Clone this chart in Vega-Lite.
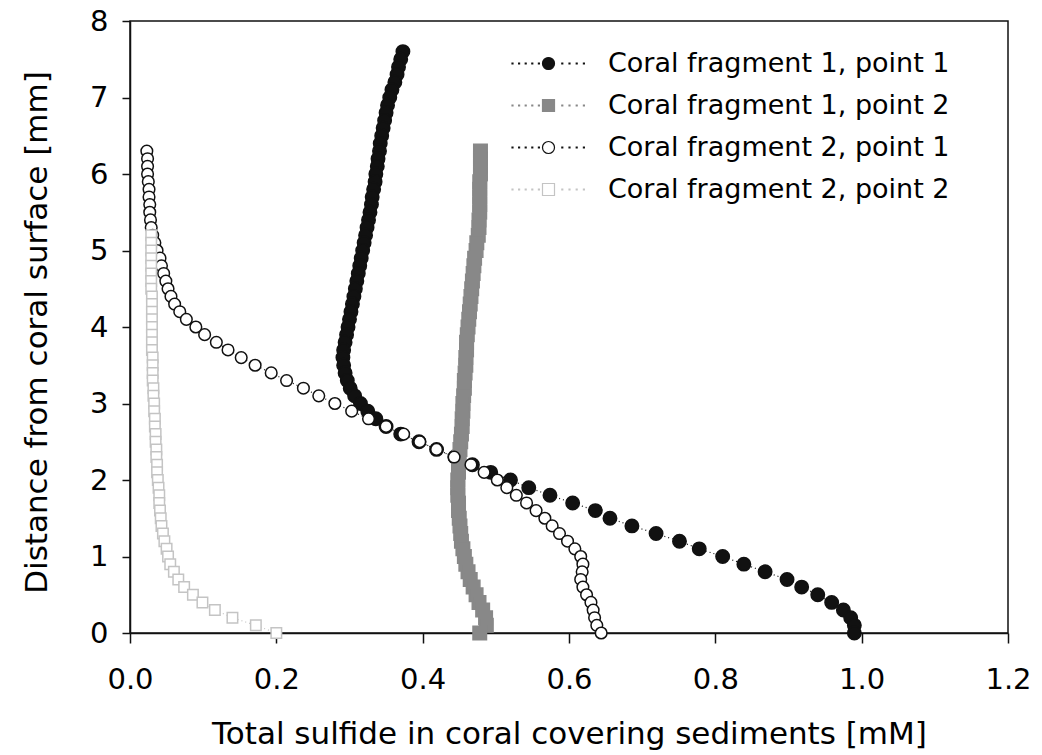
{
  "$schema": "https://vega.github.io/schema/vega-lite/v6.json",
  "width": 878,
  "height": 612,
  "autosize": {"type": "none"},
  "padding": {"left": 130, "top": 21, "right": 34, "bottom": 122},
  "background": "white",
  "config": {
    "font": "DejaVu Sans",
    "view": {"stroke": "#111111", "strokeWidth": 1.5},
    "axis": {
      "grid": false,
      "domainColor": "#111111",
      "domainWidth": 1.5,
      "tickColor": "#111111",
      "tickWidth": 1.5,
      "labelColor": "#000000",
      "titleColor": "#000000",
      "labelFont": "DejaVu Sans",
      "titleFont": "DejaVu Sans",
      "labelFontSize": 29,
      "titleFontSize": 31,
      "titleFontWeight": "normal",
      "labelFlush": false,
      "labelOverlap": false
    },
    "legend": {
      "labelFont": "DejaVu Sans",
      "labelColor": "#000000"
    }
  },
  "data": {
    "values": [
      {"series": "Coral fragment 1, point 1", "depth": 7.6, "sulfide": 0.373},
      {"series": "Coral fragment 1, point 1", "depth": 7.5, "sulfide": 0.370},
      {"series": "Coral fragment 1, point 1", "depth": 7.4, "sulfide": 0.367},
      {"series": "Coral fragment 1, point 1", "depth": 7.3, "sulfide": 0.365},
      {"series": "Coral fragment 1, point 1", "depth": 7.2, "sulfide": 0.362},
      {"series": "Coral fragment 1, point 1", "depth": 7.1, "sulfide": 0.358},
      {"series": "Coral fragment 1, point 1", "depth": 7.0, "sulfide": 0.355},
      {"series": "Coral fragment 1, point 1", "depth": 6.9, "sulfide": 0.352},
      {"series": "Coral fragment 1, point 1", "depth": 6.8, "sulfide": 0.350},
      {"series": "Coral fragment 1, point 1", "depth": 6.7, "sulfide": 0.348},
      {"series": "Coral fragment 1, point 1", "depth": 6.6, "sulfide": 0.346},
      {"series": "Coral fragment 1, point 1", "depth": 6.5, "sulfide": 0.344},
      {"series": "Coral fragment 1, point 1", "depth": 6.4, "sulfide": 0.342},
      {"series": "Coral fragment 1, point 1", "depth": 6.3, "sulfide": 0.341},
      {"series": "Coral fragment 1, point 1", "depth": 6.2, "sulfide": 0.339},
      {"series": "Coral fragment 1, point 1", "depth": 6.1, "sulfide": 0.338},
      {"series": "Coral fragment 1, point 1", "depth": 6.0, "sulfide": 0.336},
      {"series": "Coral fragment 1, point 1", "depth": 5.9, "sulfide": 0.335},
      {"series": "Coral fragment 1, point 1", "depth": 5.8, "sulfide": 0.333},
      {"series": "Coral fragment 1, point 1", "depth": 5.7, "sulfide": 0.331},
      {"series": "Coral fragment 1, point 1", "depth": 5.6, "sulfide": 0.330},
      {"series": "Coral fragment 1, point 1", "depth": 5.5, "sulfide": 0.328},
      {"series": "Coral fragment 1, point 1", "depth": 5.4, "sulfide": 0.326},
      {"series": "Coral fragment 1, point 1", "depth": 5.3, "sulfide": 0.324},
      {"series": "Coral fragment 1, point 1", "depth": 5.2, "sulfide": 0.322},
      {"series": "Coral fragment 1, point 1", "depth": 5.1, "sulfide": 0.320},
      {"series": "Coral fragment 1, point 1", "depth": 5.0, "sulfide": 0.318},
      {"series": "Coral fragment 1, point 1", "depth": 4.9, "sulfide": 0.316},
      {"series": "Coral fragment 1, point 1", "depth": 4.8, "sulfide": 0.314},
      {"series": "Coral fragment 1, point 1", "depth": 4.7, "sulfide": 0.312},
      {"series": "Coral fragment 1, point 1", "depth": 4.6, "sulfide": 0.310},
      {"series": "Coral fragment 1, point 1", "depth": 4.5, "sulfide": 0.308},
      {"series": "Coral fragment 1, point 1", "depth": 4.4, "sulfide": 0.306},
      {"series": "Coral fragment 1, point 1", "depth": 4.3, "sulfide": 0.304},
      {"series": "Coral fragment 1, point 1", "depth": 4.2, "sulfide": 0.302},
      {"series": "Coral fragment 1, point 1", "depth": 4.1, "sulfide": 0.300},
      {"series": "Coral fragment 1, point 1", "depth": 4.0, "sulfide": 0.298},
      {"series": "Coral fragment 1, point 1", "depth": 3.9, "sulfide": 0.296},
      {"series": "Coral fragment 1, point 1", "depth": 3.8, "sulfide": 0.294},
      {"series": "Coral fragment 1, point 1", "depth": 3.7, "sulfide": 0.292},
      {"series": "Coral fragment 1, point 1", "depth": 3.6, "sulfide": 0.291},
      {"series": "Coral fragment 1, point 1", "depth": 3.5, "sulfide": 0.292},
      {"series": "Coral fragment 1, point 1", "depth": 3.4, "sulfide": 0.294},
      {"series": "Coral fragment 1, point 1", "depth": 3.3, "sulfide": 0.297},
      {"series": "Coral fragment 1, point 1", "depth": 3.2, "sulfide": 0.301},
      {"series": "Coral fragment 1, point 1", "depth": 3.1, "sulfide": 0.307},
      {"series": "Coral fragment 1, point 1", "depth": 3.0, "sulfide": 0.315},
      {"series": "Coral fragment 1, point 1", "depth": 2.9, "sulfide": 0.325},
      {"series": "Coral fragment 1, point 1", "depth": 2.8, "sulfide": 0.336},
      {"series": "Coral fragment 1, point 1", "depth": 2.7, "sulfide": 0.350},
      {"series": "Coral fragment 1, point 1", "depth": 2.6, "sulfide": 0.370},
      {"series": "Coral fragment 1, point 1", "depth": 2.5, "sulfide": 0.395},
      {"series": "Coral fragment 1, point 1", "depth": 2.4, "sulfide": 0.419},
      {"series": "Coral fragment 1, point 1", "depth": 2.3, "sulfide": 0.444},
      {"series": "Coral fragment 1, point 1", "depth": 2.2, "sulfide": 0.468},
      {"series": "Coral fragment 1, point 1", "depth": 2.1, "sulfide": 0.493},
      {"series": "Coral fragment 1, point 1", "depth": 2.0, "sulfide": 0.520},
      {"series": "Coral fragment 1, point 1", "depth": 1.9, "sulfide": 0.545},
      {"series": "Coral fragment 1, point 1", "depth": 1.8, "sulfide": 0.574},
      {"series": "Coral fragment 1, point 1", "depth": 1.7, "sulfide": 0.605},
      {"series": "Coral fragment 1, point 1", "depth": 1.6, "sulfide": 0.636},
      {"series": "Coral fragment 1, point 1", "depth": 1.5, "sulfide": 0.656},
      {"series": "Coral fragment 1, point 1", "depth": 1.4, "sulfide": 0.686},
      {"series": "Coral fragment 1, point 1", "depth": 1.3, "sulfide": 0.719},
      {"series": "Coral fragment 1, point 1", "depth": 1.2, "sulfide": 0.751},
      {"series": "Coral fragment 1, point 1", "depth": 1.1, "sulfide": 0.778},
      {"series": "Coral fragment 1, point 1", "depth": 1.0, "sulfide": 0.810},
      {"series": "Coral fragment 1, point 1", "depth": 0.9, "sulfide": 0.839},
      {"series": "Coral fragment 1, point 1", "depth": 0.8, "sulfide": 0.868},
      {"series": "Coral fragment 1, point 1", "depth": 0.7, "sulfide": 0.898},
      {"series": "Coral fragment 1, point 1", "depth": 0.6, "sulfide": 0.918},
      {"series": "Coral fragment 1, point 1", "depth": 0.5, "sulfide": 0.940},
      {"series": "Coral fragment 1, point 1", "depth": 0.4, "sulfide": 0.959},
      {"series": "Coral fragment 1, point 1", "depth": 0.3, "sulfide": 0.975},
      {"series": "Coral fragment 1, point 1", "depth": 0.2, "sulfide": 0.985},
      {"series": "Coral fragment 1, point 1", "depth": 0.1, "sulfide": 0.990},
      {"series": "Coral fragment 1, point 1", "depth": 0.0, "sulfide": 0.990},

      {"series": "Coral fragment 1, point 2", "depth": 6.3, "sulfide": 0.479},
      {"series": "Coral fragment 1, point 2", "depth": 6.2, "sulfide": 0.479},
      {"series": "Coral fragment 1, point 2", "depth": 6.1, "sulfide": 0.479},
      {"series": "Coral fragment 1, point 2", "depth": 6.0, "sulfide": 0.479},
      {"series": "Coral fragment 1, point 2", "depth": 5.9, "sulfide": 0.478},
      {"series": "Coral fragment 1, point 2", "depth": 5.8, "sulfide": 0.478},
      {"series": "Coral fragment 1, point 2", "depth": 5.7, "sulfide": 0.478},
      {"series": "Coral fragment 1, point 2", "depth": 5.6, "sulfide": 0.478},
      {"series": "Coral fragment 1, point 2", "depth": 5.5, "sulfide": 0.478},
      {"series": "Coral fragment 1, point 2", "depth": 5.4, "sulfide": 0.477},
      {"series": "Coral fragment 1, point 2", "depth": 5.3, "sulfide": 0.477},
      {"series": "Coral fragment 1, point 2", "depth": 5.2, "sulfide": 0.476},
      {"series": "Coral fragment 1, point 2", "depth": 5.1, "sulfide": 0.474},
      {"series": "Coral fragment 1, point 2", "depth": 5.0, "sulfide": 0.473},
      {"series": "Coral fragment 1, point 2", "depth": 4.9, "sulfide": 0.471},
      {"series": "Coral fragment 1, point 2", "depth": 4.8, "sulfide": 0.470},
      {"series": "Coral fragment 1, point 2", "depth": 4.7, "sulfide": 0.469},
      {"series": "Coral fragment 1, point 2", "depth": 4.6, "sulfide": 0.468},
      {"series": "Coral fragment 1, point 2", "depth": 4.5, "sulfide": 0.467},
      {"series": "Coral fragment 1, point 2", "depth": 4.4, "sulfide": 0.466},
      {"series": "Coral fragment 1, point 2", "depth": 4.3, "sulfide": 0.465},
      {"series": "Coral fragment 1, point 2", "depth": 4.2, "sulfide": 0.464},
      {"series": "Coral fragment 1, point 2", "depth": 4.1, "sulfide": 0.463},
      {"series": "Coral fragment 1, point 2", "depth": 4.0, "sulfide": 0.462},
      {"series": "Coral fragment 1, point 2", "depth": 3.9, "sulfide": 0.461},
      {"series": "Coral fragment 1, point 2", "depth": 3.8, "sulfide": 0.460},
      {"series": "Coral fragment 1, point 2", "depth": 3.7, "sulfide": 0.460},
      {"series": "Coral fragment 1, point 2", "depth": 3.6, "sulfide": 0.459},
      {"series": "Coral fragment 1, point 2", "depth": 3.5, "sulfide": 0.459},
      {"series": "Coral fragment 1, point 2", "depth": 3.4, "sulfide": 0.458},
      {"series": "Coral fragment 1, point 2", "depth": 3.3, "sulfide": 0.457},
      {"series": "Coral fragment 1, point 2", "depth": 3.2, "sulfide": 0.457},
      {"series": "Coral fragment 1, point 2", "depth": 3.1, "sulfide": 0.456},
      {"series": "Coral fragment 1, point 2", "depth": 3.0, "sulfide": 0.455},
      {"series": "Coral fragment 1, point 2", "depth": 2.9, "sulfide": 0.455},
      {"series": "Coral fragment 1, point 2", "depth": 2.8, "sulfide": 0.454},
      {"series": "Coral fragment 1, point 2", "depth": 2.7, "sulfide": 0.454},
      {"series": "Coral fragment 1, point 2", "depth": 2.6, "sulfide": 0.453},
      {"series": "Coral fragment 1, point 2", "depth": 2.5, "sulfide": 0.452},
      {"series": "Coral fragment 1, point 2", "depth": 2.4, "sulfide": 0.451},
      {"series": "Coral fragment 1, point 2", "depth": 2.3, "sulfide": 0.450},
      {"series": "Coral fragment 1, point 2", "depth": 2.2, "sulfide": 0.449},
      {"series": "Coral fragment 1, point 2", "depth": 2.1, "sulfide": 0.449},
      {"series": "Coral fragment 1, point 2", "depth": 2.0, "sulfide": 0.448},
      {"series": "Coral fragment 1, point 2", "depth": 1.9, "sulfide": 0.448},
      {"series": "Coral fragment 1, point 2", "depth": 1.8, "sulfide": 0.448},
      {"series": "Coral fragment 1, point 2", "depth": 1.7, "sulfide": 0.449},
      {"series": "Coral fragment 1, point 2", "depth": 1.6, "sulfide": 0.449},
      {"series": "Coral fragment 1, point 2", "depth": 1.5, "sulfide": 0.450},
      {"series": "Coral fragment 1, point 2", "depth": 1.4, "sulfide": 0.451},
      {"series": "Coral fragment 1, point 2", "depth": 1.3, "sulfide": 0.452},
      {"series": "Coral fragment 1, point 2", "depth": 1.2, "sulfide": 0.453},
      {"series": "Coral fragment 1, point 2", "depth": 1.1, "sulfide": 0.455},
      {"series": "Coral fragment 1, point 2", "depth": 1.0, "sulfide": 0.457},
      {"series": "Coral fragment 1, point 2", "depth": 0.9, "sulfide": 0.459},
      {"series": "Coral fragment 1, point 2", "depth": 0.8, "sulfide": 0.462},
      {"series": "Coral fragment 1, point 2", "depth": 0.7, "sulfide": 0.465},
      {"series": "Coral fragment 1, point 2", "depth": 0.6, "sulfide": 0.469},
      {"series": "Coral fragment 1, point 2", "depth": 0.5, "sulfide": 0.473},
      {"series": "Coral fragment 1, point 2", "depth": 0.4, "sulfide": 0.477},
      {"series": "Coral fragment 1, point 2", "depth": 0.3, "sulfide": 0.482},
      {"series": "Coral fragment 1, point 2", "depth": 0.2, "sulfide": 0.486},
      {"series": "Coral fragment 1, point 2", "depth": 0.1, "sulfide": 0.487},
      {"series": "Coral fragment 1, point 2", "depth": 0.0, "sulfide": 0.478},

      {"series": "Coral fragment 2, point 1", "depth": 6.3, "sulfide": 0.023},
      {"series": "Coral fragment 2, point 1", "depth": 6.2, "sulfide": 0.024},
      {"series": "Coral fragment 2, point 1", "depth": 6.1, "sulfide": 0.024},
      {"series": "Coral fragment 2, point 1", "depth": 6.0, "sulfide": 0.024},
      {"series": "Coral fragment 2, point 1", "depth": 5.9, "sulfide": 0.025},
      {"series": "Coral fragment 2, point 1", "depth": 5.8, "sulfide": 0.026},
      {"series": "Coral fragment 2, point 1", "depth": 5.7, "sulfide": 0.026},
      {"series": "Coral fragment 2, point 1", "depth": 5.6, "sulfide": 0.027},
      {"series": "Coral fragment 2, point 1", "depth": 5.5, "sulfide": 0.027},
      {"series": "Coral fragment 2, point 1", "depth": 5.4, "sulfide": 0.028},
      {"series": "Coral fragment 2, point 1", "depth": 5.3, "sulfide": 0.029},
      {"series": "Coral fragment 2, point 1", "depth": 5.2, "sulfide": 0.031},
      {"series": "Coral fragment 2, point 1", "depth": 5.1, "sulfide": 0.034},
      {"series": "Coral fragment 2, point 1", "depth": 5.0, "sulfide": 0.037},
      {"series": "Coral fragment 2, point 1", "depth": 4.9, "sulfide": 0.041},
      {"series": "Coral fragment 2, point 1", "depth": 4.8, "sulfide": 0.043},
      {"series": "Coral fragment 2, point 1", "depth": 4.7, "sulfide": 0.046},
      {"series": "Coral fragment 2, point 1", "depth": 4.6, "sulfide": 0.049},
      {"series": "Coral fragment 2, point 1", "depth": 4.5, "sulfide": 0.052},
      {"series": "Coral fragment 2, point 1", "depth": 4.4, "sulfide": 0.056},
      {"series": "Coral fragment 2, point 1", "depth": 4.3, "sulfide": 0.061},
      {"series": "Coral fragment 2, point 1", "depth": 4.2, "sulfide": 0.068},
      {"series": "Coral fragment 2, point 1", "depth": 4.1, "sulfide": 0.077},
      {"series": "Coral fragment 2, point 1", "depth": 4.0, "sulfide": 0.090},
      {"series": "Coral fragment 2, point 1", "depth": 3.9, "sulfide": 0.102},
      {"series": "Coral fragment 2, point 1", "depth": 3.8, "sulfide": 0.118},
      {"series": "Coral fragment 2, point 1", "depth": 3.7, "sulfide": 0.134},
      {"series": "Coral fragment 2, point 1", "depth": 3.6, "sulfide": 0.152},
      {"series": "Coral fragment 2, point 1", "depth": 3.5, "sulfide": 0.171},
      {"series": "Coral fragment 2, point 1", "depth": 3.4, "sulfide": 0.193},
      {"series": "Coral fragment 2, point 1", "depth": 3.3, "sulfide": 0.214},
      {"series": "Coral fragment 2, point 1", "depth": 3.2, "sulfide": 0.237},
      {"series": "Coral fragment 2, point 1", "depth": 3.1, "sulfide": 0.258},
      {"series": "Coral fragment 2, point 1", "depth": 3.0, "sulfide": 0.280},
      {"series": "Coral fragment 2, point 1", "depth": 2.9, "sulfide": 0.303},
      {"series": "Coral fragment 2, point 1", "depth": 2.8, "sulfide": 0.326},
      {"series": "Coral fragment 2, point 1", "depth": 2.7, "sulfide": 0.350},
      {"series": "Coral fragment 2, point 1", "depth": 2.6, "sulfide": 0.374},
      {"series": "Coral fragment 2, point 1", "depth": 2.5, "sulfide": 0.396},
      {"series": "Coral fragment 2, point 1", "depth": 2.4, "sulfide": 0.419},
      {"series": "Coral fragment 2, point 1", "depth": 2.3, "sulfide": 0.443},
      {"series": "Coral fragment 2, point 1", "depth": 2.2, "sulfide": 0.466},
      {"series": "Coral fragment 2, point 1", "depth": 2.1, "sulfide": 0.484},
      {"series": "Coral fragment 2, point 1", "depth": 2.0, "sulfide": 0.502},
      {"series": "Coral fragment 2, point 1", "depth": 1.9, "sulfide": 0.515},
      {"series": "Coral fragment 2, point 1", "depth": 1.8, "sulfide": 0.528},
      {"series": "Coral fragment 2, point 1", "depth": 1.7, "sulfide": 0.542},
      {"series": "Coral fragment 2, point 1", "depth": 1.6, "sulfide": 0.555},
      {"series": "Coral fragment 2, point 1", "depth": 1.5, "sulfide": 0.567},
      {"series": "Coral fragment 2, point 1", "depth": 1.4, "sulfide": 0.577},
      {"series": "Coral fragment 2, point 1", "depth": 1.3, "sulfide": 0.587},
      {"series": "Coral fragment 2, point 1", "depth": 1.2, "sulfide": 0.598},
      {"series": "Coral fragment 2, point 1", "depth": 1.1, "sulfide": 0.608},
      {"series": "Coral fragment 2, point 1", "depth": 1.0, "sulfide": 0.616},
      {"series": "Coral fragment 2, point 1", "depth": 0.9, "sulfide": 0.619},
      {"series": "Coral fragment 2, point 1", "depth": 0.8, "sulfide": 0.618},
      {"series": "Coral fragment 2, point 1", "depth": 0.7, "sulfide": 0.616},
      {"series": "Coral fragment 2, point 1", "depth": 0.6, "sulfide": 0.619},
      {"series": "Coral fragment 2, point 1", "depth": 0.5, "sulfide": 0.624},
      {"series": "Coral fragment 2, point 1", "depth": 0.4, "sulfide": 0.630},
      {"series": "Coral fragment 2, point 1", "depth": 0.3, "sulfide": 0.633},
      {"series": "Coral fragment 2, point 1", "depth": 0.2, "sulfide": 0.635},
      {"series": "Coral fragment 2, point 1", "depth": 0.1, "sulfide": 0.638},
      {"series": "Coral fragment 2, point 1", "depth": 0.0, "sulfide": 0.644},

      {"series": "Coral fragment 2, point 2", "depth": 5.2, "sulfide": 0.029},
      {"series": "Coral fragment 2, point 2", "depth": 5.1, "sulfide": 0.029},
      {"series": "Coral fragment 2, point 2", "depth": 5.0, "sulfide": 0.029},
      {"series": "Coral fragment 2, point 2", "depth": 4.9, "sulfide": 0.029},
      {"series": "Coral fragment 2, point 2", "depth": 4.8, "sulfide": 0.029},
      {"series": "Coral fragment 2, point 2", "depth": 4.7, "sulfide": 0.029},
      {"series": "Coral fragment 2, point 2", "depth": 4.6, "sulfide": 0.029},
      {"series": "Coral fragment 2, point 2", "depth": 4.5, "sulfide": 0.029},
      {"series": "Coral fragment 2, point 2", "depth": 4.4, "sulfide": 0.030},
      {"series": "Coral fragment 2, point 2", "depth": 4.3, "sulfide": 0.030},
      {"series": "Coral fragment 2, point 2", "depth": 4.2, "sulfide": 0.030},
      {"series": "Coral fragment 2, point 2", "depth": 4.1, "sulfide": 0.030},
      {"series": "Coral fragment 2, point 2", "depth": 4.0, "sulfide": 0.030},
      {"series": "Coral fragment 2, point 2", "depth": 3.9, "sulfide": 0.030},
      {"series": "Coral fragment 2, point 2", "depth": 3.8, "sulfide": 0.030},
      {"series": "Coral fragment 2, point 2", "depth": 3.7, "sulfide": 0.030},
      {"series": "Coral fragment 2, point 2", "depth": 3.6, "sulfide": 0.031},
      {"series": "Coral fragment 2, point 2", "depth": 3.5, "sulfide": 0.031},
      {"series": "Coral fragment 2, point 2", "depth": 3.4, "sulfide": 0.031},
      {"series": "Coral fragment 2, point 2", "depth": 3.3, "sulfide": 0.031},
      {"series": "Coral fragment 2, point 2", "depth": 3.2, "sulfide": 0.032},
      {"series": "Coral fragment 2, point 2", "depth": 3.1, "sulfide": 0.032},
      {"series": "Coral fragment 2, point 2", "depth": 3.0, "sulfide": 0.033},
      {"series": "Coral fragment 2, point 2", "depth": 2.9, "sulfide": 0.033},
      {"series": "Coral fragment 2, point 2", "depth": 2.8, "sulfide": 0.034},
      {"series": "Coral fragment 2, point 2", "depth": 2.7, "sulfide": 0.034},
      {"series": "Coral fragment 2, point 2", "depth": 2.6, "sulfide": 0.035},
      {"series": "Coral fragment 2, point 2", "depth": 2.5, "sulfide": 0.035},
      {"series": "Coral fragment 2, point 2", "depth": 2.4, "sulfide": 0.036},
      {"series": "Coral fragment 2, point 2", "depth": 2.3, "sulfide": 0.036},
      {"series": "Coral fragment 2, point 2", "depth": 2.2, "sulfide": 0.037},
      {"series": "Coral fragment 2, point 2", "depth": 2.1, "sulfide": 0.037},
      {"series": "Coral fragment 2, point 2", "depth": 2.0, "sulfide": 0.038},
      {"series": "Coral fragment 2, point 2", "depth": 1.9, "sulfide": 0.039},
      {"series": "Coral fragment 2, point 2", "depth": 1.8, "sulfide": 0.040},
      {"series": "Coral fragment 2, point 2", "depth": 1.7, "sulfide": 0.040},
      {"series": "Coral fragment 2, point 2", "depth": 1.6, "sulfide": 0.041},
      {"series": "Coral fragment 2, point 2", "depth": 1.5, "sulfide": 0.042},
      {"series": "Coral fragment 2, point 2", "depth": 1.4, "sulfide": 0.043},
      {"series": "Coral fragment 2, point 2", "depth": 1.3, "sulfide": 0.045},
      {"series": "Coral fragment 2, point 2", "depth": 1.2, "sulfide": 0.047},
      {"series": "Coral fragment 2, point 2", "depth": 1.1, "sulfide": 0.050},
      {"series": "Coral fragment 2, point 2", "depth": 1.0, "sulfide": 0.052},
      {"series": "Coral fragment 2, point 2", "depth": 0.9, "sulfide": 0.055},
      {"series": "Coral fragment 2, point 2", "depth": 0.8, "sulfide": 0.060},
      {"series": "Coral fragment 2, point 2", "depth": 0.7, "sulfide": 0.066},
      {"series": "Coral fragment 2, point 2", "depth": 0.6, "sulfide": 0.074},
      {"series": "Coral fragment 2, point 2", "depth": 0.5, "sulfide": 0.086},
      {"series": "Coral fragment 2, point 2", "depth": 0.4, "sulfide": 0.099},
      {"series": "Coral fragment 2, point 2", "depth": 0.3, "sulfide": 0.116},
      {"series": "Coral fragment 2, point 2", "depth": 0.2, "sulfide": 0.140},
      {"series": "Coral fragment 2, point 2", "depth": 0.1, "sulfide": 0.172},
      {"series": "Coral fragment 2, point 2", "depth": 0.0, "sulfide": 0.200}
    ]
  },
  "encoding": {
    "x": {
      "field": "sulfide",
      "type": "quantitative",
      "scale": {"domain": [0, 1.2], "nice": false, "zero": false},
      "axis": {
        "values": [0, 0.2, 0.4, 0.6, 0.8, 1.0, 1.2],
        "format": ".1f",
        "tickSize": 10,
        "labelPadding": 22,
        "titleY": 110,
        "titleBaseline": "alphabetic",
        "title": "Total sulfide in coral covering sediments [mM]"
      }
    },
    "y": {
      "field": "depth",
      "type": "quantitative",
      "scale": {"domain": [0, 8], "nice": false, "zero": false},
      "axis": {
        "values": [0, 1, 2, 3, 4, 5, 6, 7, 8],
        "format": "d",
        "tickSize": 8,
        "labelPadding": 14,
        "titleX": -84,
        "titleY": 311,
        "titleAngle": -90,
        "titleBaseline": "alphabetic",
        "title": "Distance from coral surface [mm]"
      }
    }
  },
  "resolve": {
    "scale": {"shape": "independent"},
    "legend": {"shape": "independent", "fill": "independent", "stroke": "independent", "size": "independent", "color": "independent"}
  },
  "layer": [
    {
      "mark": {"type": "line", "strokeDash": [1, 3], "strokeWidth": 1.2},
      "encoding": {
        "color": {
          "field": "series",
          "type": "nominal",
          "scale": {
            "domain": ["Coral fragment 2, point 2", "Coral fragment 2, point 1", "Coral fragment 1, point 2", "Coral fragment 1, point 1"],
            "range": ["#c4c4c4", "#111111", "#888888", "#111111"]
          },
          "legend": null
        },
        "order": {"field": "depth", "type": "quantitative"}
      }
    },
    {
      "mark": {"type": "point", "filled": true, "opacity": 1, "strokeWidth": 1.5},
      "encoding": {
        "shape": {
          "field": "series",
          "type": "nominal",
          "scale": {
            "domain": ["Coral fragment 1, point 1", "Coral fragment 1, point 2", "Coral fragment 2, point 1", "Coral fragment 2, point 2"],
            "range": ["circle", "square", "circle", "square"]
          },
          "legend": null
        },
        "size": {
          "field": "series",
          "type": "nominal",
          "scale": {
            "type": "ordinal",
            "domain": ["Coral fragment 1, point 1", "Coral fragment 1, point 2", "Coral fragment 2, point 1", "Coral fragment 2, point 2"],
            "range": [180, 182, 135, 110]
          },
          "legend": null
        },
        "fill": {
          "field": "series",
          "type": "nominal",
          "scale": {
            "domain": ["Coral fragment 1, point 1", "Coral fragment 1, point 2", "Coral fragment 2, point 1", "Coral fragment 2, point 2"],
            "range": ["#111111", "#888888", "#ffffff", "#ffffff"]
          },
          "legend": null
        },
        "stroke": {
          "field": "series",
          "type": "nominal",
          "scale": {
            "domain": ["Coral fragment 1, point 1", "Coral fragment 1, point 2", "Coral fragment 2, point 1", "Coral fragment 2, point 2"],
            "range": ["#111111", "#888888", "#111111", "#c4c4c4"]
          },
          "legend": null
        }
      }
    },
    {
      "transform": [{"filter": "datum.depth > 100"}],
      "mark": {"type": "point", "filled": true, "opacity": 1, "strokeWidth": 1.2},
      "encoding": {
        "shape": {
          "field": "series",
          "type": "nominal",
          "scale": {
            "domain": ["Coral fragment 1, point 1", "Coral fragment 1, point 2", "Coral fragment 2, point 1", "Coral fragment 2, point 2"],
            "range": [
              "M1,0C1,0.5523,0.5523,1,0,1C-0.5523,1,-1,0.5523,-1,0C-1,-0.5523,-0.5523,-1,0,-1C0.5523,-1,1,-0.5523,1,0Z M-6.08,-0.08h0.16v0.16h-0.16Z M-4.98,-0.08h0.16v0.16h-0.16Z M-3.88,-0.08h0.16v0.16h-0.16Z M-2.78,-0.08h0.16v0.16h-0.16Z M-1.68,-0.08h0.16v0.16h-0.16Z M2.22,-0.08h0.16v0.16h-0.16Z M3.42,-0.08h0.16v0.16h-0.16Z M4.62,-0.08h0.16v0.16h-0.16Z M5.82,-0.08h0.16v0.16h-0.16Z",
              "M-1,-1H1V1H-1Z M-6.08,-0.08h0.16v0.16h-0.16Z M-4.98,-0.08h0.16v0.16h-0.16Z M-3.88,-0.08h0.16v0.16h-0.16Z M-2.78,-0.08h0.16v0.16h-0.16Z M-1.68,-0.08h0.16v0.16h-0.16Z M2.22,-0.08h0.16v0.16h-0.16Z M3.42,-0.08h0.16v0.16h-0.16Z M4.62,-0.08h0.16v0.16h-0.16Z M5.82,-0.08h0.16v0.16h-0.16Z",
              "M1,0C1,0.5523,0.5523,1,0,1C-0.5523,1,-1,0.5523,-1,0C-1,-0.5523,-0.5523,-1,0,-1C0.5523,-1,1,-0.5523,1,0Z M-6.08,-0.08h0.16v0.16h-0.16Z M-4.98,-0.08h0.16v0.16h-0.16Z M-3.88,-0.08h0.16v0.16h-0.16Z M-2.78,-0.08h0.16v0.16h-0.16Z M-1.68,-0.08h0.16v0.16h-0.16Z M2.22,-0.08h0.16v0.16h-0.16Z M3.42,-0.08h0.16v0.16h-0.16Z M4.62,-0.08h0.16v0.16h-0.16Z M5.82,-0.08h0.16v0.16h-0.16Z",
              "M-1,-1H1V1H-1Z M-6.08,-0.08h0.16v0.16h-0.16Z M-4.98,-0.08h0.16v0.16h-0.16Z M-3.88,-0.08h0.16v0.16h-0.16Z M-2.78,-0.08h0.16v0.16h-0.16Z M-1.68,-0.08h0.16v0.16h-0.16Z M2.22,-0.08h0.16v0.16h-0.16Z M3.42,-0.08h0.16v0.16h-0.16Z M4.62,-0.08h0.16v0.16h-0.16Z M5.82,-0.08h0.16v0.16h-0.16Z"
            ]
          },
          "legend": {
            "orient": "none", "legendX": 405, "legendY": 29, "title": null, "padding": 0,
            "labelFontSize": 27, "labelLimit": 600, "labelOffset": 46, "rowPadding": 14,
            "symbolSize": 144, "symbolStrokeWidth": 1.2
          }
        },
        "fill": {
          "field": "series",
          "type": "nominal",
          "scale": {
            "domain": ["Coral fragment 1, point 1", "Coral fragment 1, point 2", "Coral fragment 2, point 1", "Coral fragment 2, point 2"],
            "range": ["#111111", "#888888", "#ffffff", "#ffffff"]
          },
          "legend": {
            "orient": "none", "legendX": 405, "legendY": 29, "title": null, "padding": 0,
            "labelFontSize": 27, "labelLimit": 600, "labelOffset": 46, "rowPadding": 14,
            "symbolSize": 144, "symbolStrokeWidth": 1.2
          }
        },
        "stroke": {
          "field": "series",
          "type": "nominal",
          "scale": {
            "domain": ["Coral fragment 1, point 1", "Coral fragment 1, point 2", "Coral fragment 2, point 1", "Coral fragment 2, point 2"],
            "range": ["#111111", "#888888", "#111111", "#c4c4c4"]
          },
          "legend": {
            "orient": "none", "legendX": 405, "legendY": 29, "title": null, "padding": 0,
            "labelFontSize": 27, "labelLimit": 600, "labelOffset": 46, "rowPadding": 14,
            "symbolSize": 144, "symbolStrokeWidth": 1.2
          }
        }
      }
    }
  ]
}
